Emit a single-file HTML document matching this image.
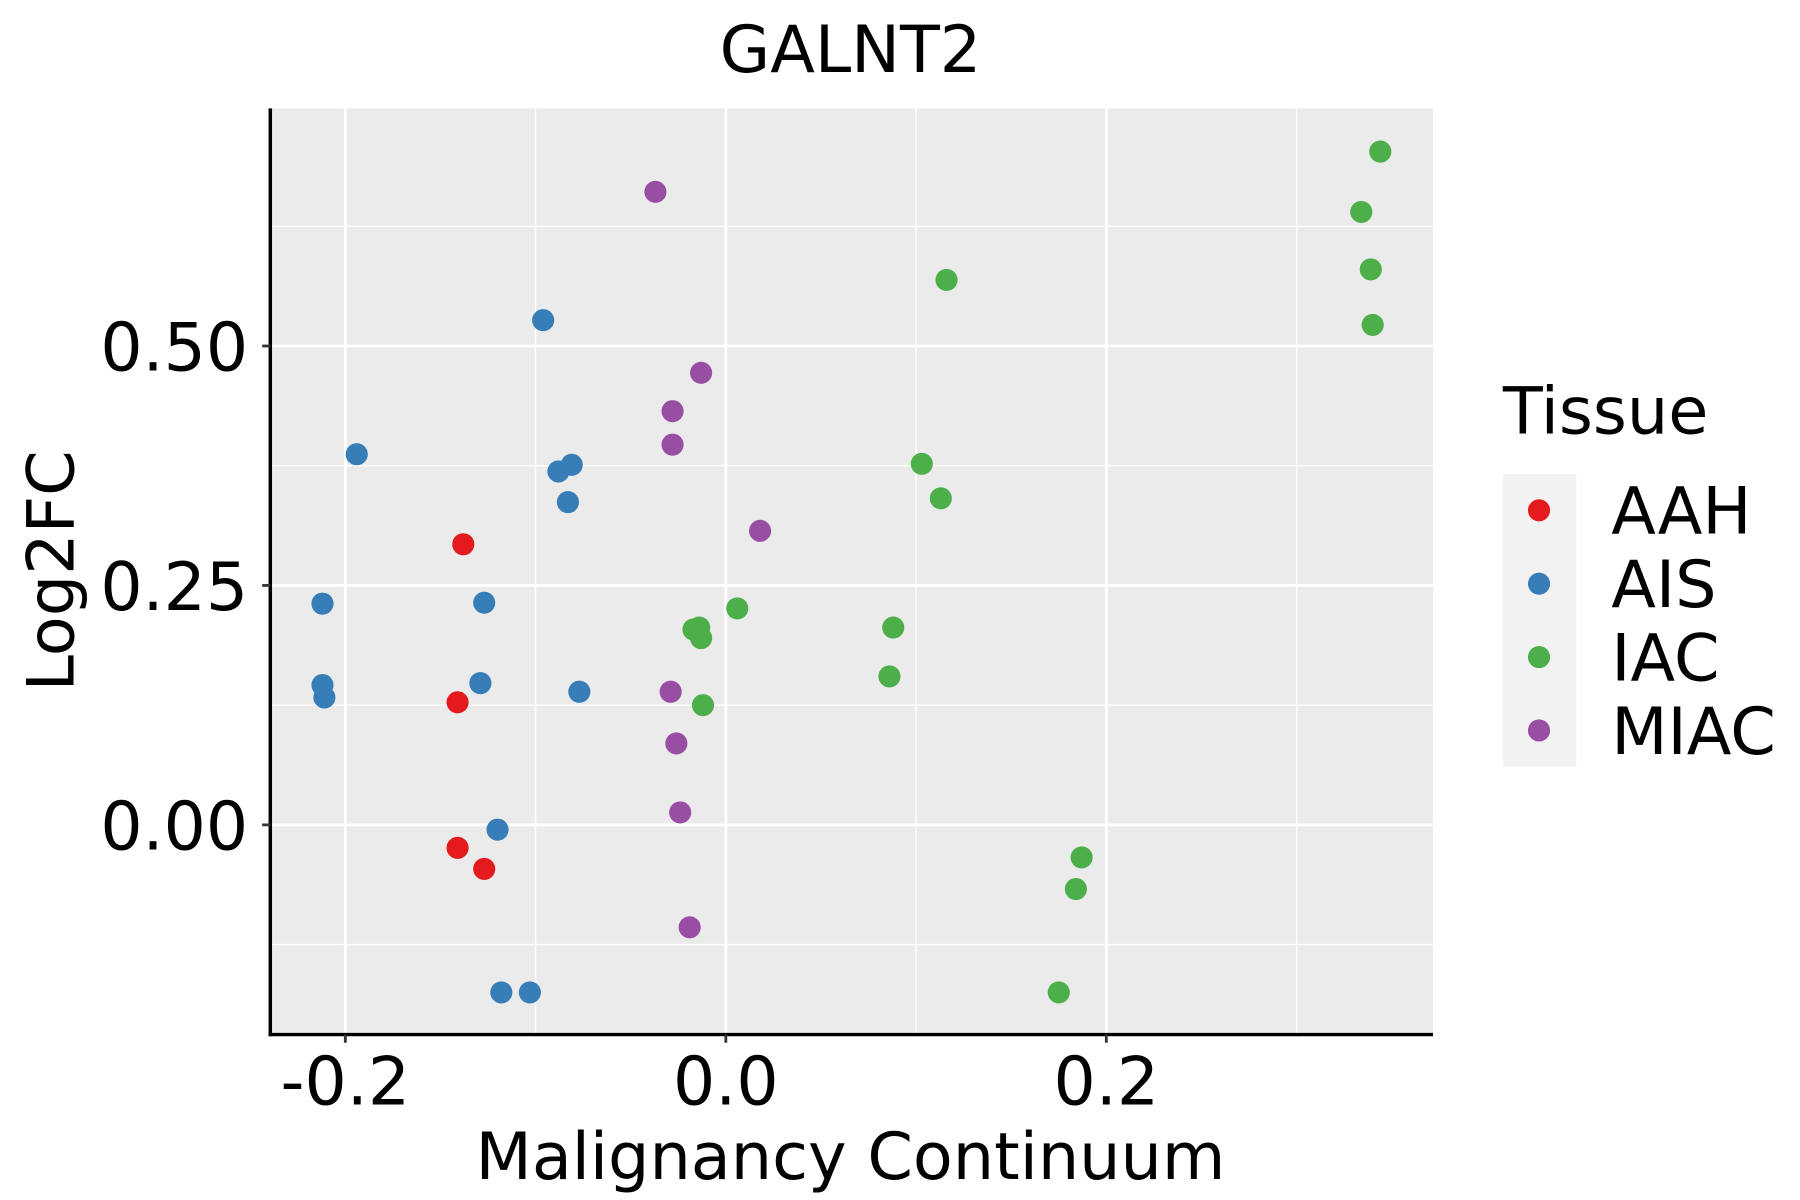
<!DOCTYPE html>
<html><head><meta charset="utf-8"><style>html,body{margin:0;padding:0;background:#fff}svg{display:block}text{font-family:"DejaVu Sans","Liberation Sans",sans-serif;fill:#000}</style></head>
<body>
<svg id="chart" width="1800" height="1200" viewBox="0 0 1545 1030" xmlns="http://www.w3.org/2000/svg">
<rect x="232" y="93" width="998" height="795" fill="#ebebeb"/>
<g id="grid"></g>
<g id="points"></g>
<g id="axes"></g>
<text x="730" y="62" font-size="56" text-anchor="middle">GALNT2</text>
<text x="730" y="1012" font-size="56" text-anchor="middle">Malignancy Continuum</text>
<text transform="translate(63,490) rotate(-90)" font-size="56" text-anchor="middle">Log2FC</text>
<g>
<text x="1290" y="372" font-size="56">Tissue</text>
<rect x="1290" y="407" width="63" height="251" fill="#f2f2f2"/>
<g id="legend"></g>
</g>
</svg>
<script>
const categories = ["AAH","AIS","IAC","MIAC"];
const colors = ["#e41a1c","#377eb8","#4daf4a","#984ea3"];
const xTicks = [-0.2,0.0,0.2];
const xTickLabels = ["-0.2","0.0","0.2"];
const yTicks = [0,0.25,0.5];
const yTickLabels = ["0.00","0.25","0.50"];
const xMinor = [-0.1,0.1,0.3];
const yMinor = [-0.125,0.125,0.375,0.625];
const aahX = [-0.138,-0.141,-0.141,-0.127];
const aahY = [0.293,0.128,-0.024,-0.046];
const aisX = [-0.096,-0.194,-0.088,-0.081,-0.083,-0.212,-0.127,-0.212,-0.211,-0.129,-0.077,-0.120,-0.118,-0.103];
const aisY = [0.527,0.387,0.369,0.376,0.337,0.231,0.232,0.146,0.133,0.148,0.139,-0.005,-0.175,-0.175];
const iacX = [0.344,0.334,0.339,0.340,0.116,0.103,0.113,0.006,-0.017,-0.014,-0.013,0.088,0.086,-0.012,0.187,0.184,0.175];
const iacY = [0.703,0.640,0.580,0.522,0.569,0.377,0.341,0.226,0.204,0.206,0.195,0.206,0.155,0.125,-0.034,-0.067,-0.175];
const miacX = [-0.037,-0.013,-0.028,-0.028,0.018,-0.029,-0.026,-0.024,-0.019];
const miacY = [0.661,0.472,0.432,0.397,0.307,0.139,0.085,0.013,-0.107];

const NS="http://www.w3.org/2000/svg";
const L=232,R=1230,T=93,B=888;
function xs(v){return 623+v*1633;}
function ys(v){return 708-v*822;}
function mk(tag,attrs,parent){const e=document.createElementNS(NS,tag);for(const k in attrs)e.setAttribute(k,attrs[k]);parent.appendChild(e);return e;}
const grid=document.getElementById('grid');
xMinor.forEach(v=>{const e=mk('line',{x1:xs(v),x2:xs(v),y1:T,y2:B,stroke:'#fff','stroke-width':1.2},grid);

});
yMinor.forEach(v=>{const e=mk('line',{x1:L,x2:R,y1:ys(v),y2:ys(v),stroke:'#fff','stroke-width':1.2},grid);

});
xTicks.forEach(v=>{const e=mk('line',{x1:xs(v),x2:xs(v),y1:T,y2:B,stroke:'#fff','stroke-width':2.4},grid);

});
yTicks.forEach(v=>{const e=mk('line',{x1:L,x2:R,y1:ys(v),y2:ys(v),stroke:'#fff','stroke-width':2.4},grid);

});
const pts=document.getElementById('points');
const series=[[aahX,aahY],[aisX,aisY],[iacX,iacY],[miacX,miacY]];
series.forEach((s,i)=>{s[0].forEach((x,j)=>{const c=mk('circle',{cx:xs(x),cy:ys(s[1][j]),r:9.5,fill:colors[i]},pts);

});});
const ax=document.getElementById('axes');
const la=mk('line',{x1:L,x2:L,y1:T,y2:B+1.5,stroke:'#000','stroke-width':3},ax);


const ba=mk('line',{x1:L-1.5,x2:R,y1:B,y2:B,stroke:'#000','stroke-width':3},ax);


xTicks.forEach((v,i)=>{const t=mk('line',{x1:xs(v),x2:xs(v),y1:B,y2:B+7,stroke:'#333','stroke-width':2.4},ax);


const tx=mk('text',{x:xs(v),y:948,'font-size':57,'text-anchor':'middle'},ax);tx.textContent=xTickLabels[i];

});
yTicks.forEach((v,i)=>{const t=mk('line',{x1:L-7,x2:L,y1:ys(v),y2:ys(v),stroke:'#333','stroke-width':2.4},ax);


const tx=mk('text',{x:L-19,y:ys(v)+21,'font-size':57,'text-anchor':'end'},ax);tx.textContent=yTickLabels[i];

});
const lg=document.getElementById('legend');
categories.forEach((c,i)=>{const y=438+i*63;
const d=mk('circle',{cx:1321,cy:y,r:9.5,fill:colors[i]},lg);


const t=mk('text',{x:1383,y:y+20,'font-size':56},lg);t.textContent=c;

});
</script>
</body></html>
